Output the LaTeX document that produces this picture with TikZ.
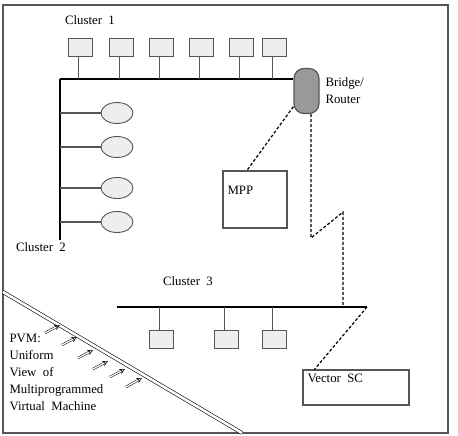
\documentclass[tikz,border=0pt]{standalone}
\usepackage{fontspec}
\setmainfont{Liberation Serif}
\usetikzlibrary{positioning,calc,arrows.meta,shapes.geometric}
\definecolor{hostgray}{HTML}{EEEEEE}
\definecolor{bridgegray}{HTML}{999999}
\definecolor{edgegray}{HTML}{555555}
\begin{document}
\begin{tikzpicture}[x=1pt,y=-1pt,font=\fontsize{12.8}{17}\selectfont,
  host/.style={draw=edgegray,fill=hostgray,line width=1pt,minimum width=24pt,minimum height=18pt,inner sep=0pt},
  ws/.style={draw=edgegray,fill=hostgray,ellipse,line width=0.9pt,minimum width=32pt,minimum height=21pt,inner sep=0pt},
  stem/.style={edgegray,line width=0.8pt},
  bus/.style={line width=2.4pt},
  link/.style={dash pattern=on 3pt off 2pt,line width=1.2pt},
  view/.style={double,double distance=1.3pt,line width=0.5pt,-{Stealth[open,length=5.5pt,width=5.5pt]}}]
\useasboundingbox (0,0) rectangle (458,436);
\draw[edgegray,line width=1.4pt] (3,5) rectangle (448,433);
% cluster 1
\node (c1lbl) at (90,20) {Cluster\ \ 1};
\coordinate (b1w) at (60,79);
\node[draw=edgegray,fill=bridgegray,rounded corners=10pt,line width=1.2pt,minimum width=25pt,minimum height=45pt] (bridge) at (306.5,91) {};
\node[anchor=west,align=left] (brlbl) at (322,91) {Bridge/\\Router};
\draw[bus] (b1w) -- (b1w -| bridge.west);
\foreach \i/\x in {1/80,2/121,3/161,4/201,5/241,6/274} {
  \node[host] (h\i) at (\x,48) {};
  \draw[stem] ([xshift=-2pt]h\i.south) -- ([xshift=-2pt]h\i.south |- b1w);
}
% cluster 2
\coordinate (c2end) at (60,240);
\draw[line width=1.4pt] (b1w) -- (c2end);
\foreach \i/\y in {1/113,2/147,3/188,4/222} {
  \node[ws] (w\i) at (117,\y) {};
  \draw[stem,line width=1.1pt] (w\i.west) -- (w\i.west -| b1w);
}
\node (c2lbl) at (41,247) {Cluster\ \ 2};
% MPP
\node[draw=edgegray,line width=1.3pt,minimum width=64pt,minimum height=57pt] (mpp) at (255,199.5) {};
\node[anchor=west] (mpplbl) at (224,190) {MPP};
\draw[link] (bridge.230) -- ($(mpp.north)+(-8,0)$);
% cluster 3
\node (c3lbl) at (188,281) {Cluster\ \ 3};
\coordinate (b3w) at (117,307);
\coordinate (b3e) at (367,307);
\draw[bus] (b3w) -- (b3e);
\foreach \i/\x in {1/161,2/226,3/274} {
  \node[host] (k\i) at (\x,339) {};
  \draw[stem] ([xshift=-2pt]k\i.north) -- ([xshift=-2pt]k\i.north |- b3w);
}
\coordinate (zz1) at (311,238);
\coordinate (zz2) at (343,212);
\draw[link] ([xshift=4.5pt]bridge.south) -- (zz1) -- (zz2) -- (zz2 |- b3w);
% vector SC
\node[draw=edgegray,line width=1.1pt,minimum width=106pt,minimum height=35pt] (vsc) at (356,387.5) {};
\node[anchor=west] (vsclbl) at (304,378) {Vector\ \ SC};
\draw[link] (b3e) -- ($(vsc.north west)+(12,0)$);
% PVM view
\coordinate (d1) at (3,292);
\coordinate (d2) at (242,433);
\draw[double,double distance=2.6pt,line width=0.6pt] (d1) -- (d2);
\foreach \tx/\ty/\hx/\hy in {45/333/60/325,62/345/77/337,78/358/93/350,93/369/108/361,110/377/125/369,126/387/142/378}
  \draw[view] (\tx,\ty) -- (\hx,\hy);
\node[anchor=west,align=left] (pvm) at (6,372) {PVM:\\Uniform\\View\ \ of\\Multiprogrammed\\Virtual\ \ Machine};
\end{tikzpicture}
\end{document}
